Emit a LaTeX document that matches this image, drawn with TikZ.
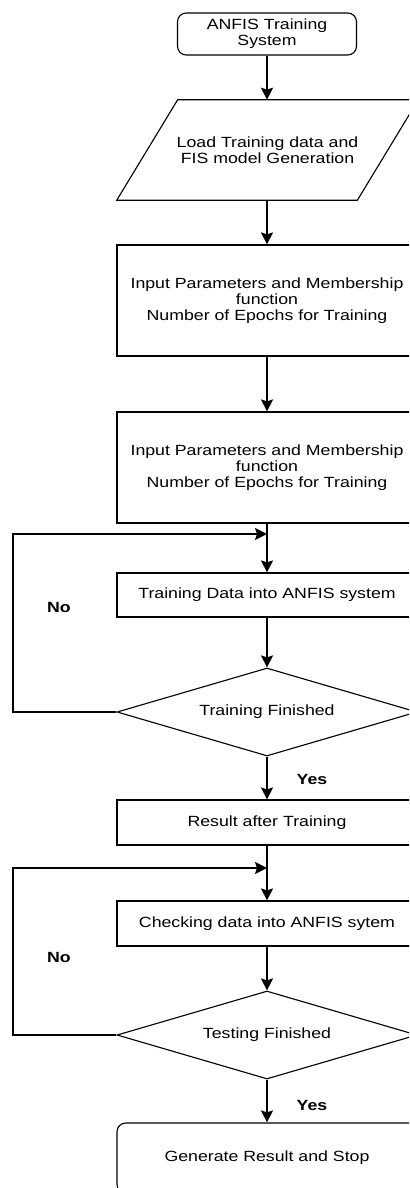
\documentclass[tikz,border=0pt]{standalone}
\usepackage{fontspec}
\setmainfont{Liberation Sans}[FakeStretch=1.2]
\usetikzlibrary{shapes.geometric,arrows.meta,calc}

\begin{document}
\begin{tikzpicture}[x=0.025cm, y=-0.025cm,
    font=\fontsize{10.5}{11.3}\selectfont,
    startstop/.style={draw, line width=0.8pt, rounded corners=0.22cm, align=center},
    io/.style={minimum width=6cm, minimum height=2.5cm, align=center},
    process/.style={draw, line width=0.8pt, minimum width=7.5cm, align=center},
    decision/.style={draw, line width=0.8pt, diamond, aspect=3.4, inner sep=0pt,
        minimum width=7.5cm, minimum height=2.2cm, align=center},
    arrow/.style={line width=1.2pt, -{Stealth[length=0.3cm, width=0.3cm, inset=0.05cm]}},
    answer/.style={font=\fontsize{10.5}{12}\selectfont\bfseries}]
    \clip (0,0) rectangle (409,1188);

    % main column
    \node[startstop, minimum width=4.475cm, minimum height=1.05cm] (start) at (267,34) {ANFIS Training\\System};
    \node[io] (load) at (267.5,150) {Load Training data and\\FIS model Generation};
    \draw[line width=0.8pt] ($(load.south west)+(-30.5,0)$) -- ($(load.north west)+(30.5,0)$)
        -- ($(load.north east)+(30.5,0)$) -- ($(load.south east)+(-30.5,0)$) -- cycle;
    \node[process, minimum height=2.775cm] (param1) at (267,300.5) {Input Parameters and Membership\\function\\Number of Epochs for Training};
    \node[process, minimum height=2.775cm] (param2) at (267,467.5) {Input Parameters and Membership\\function\\Number of Epochs for Training};
    \node[process, minimum height=1.1cm] (train) at (267,595) {Training Data into ANFIS system};
    \node[decision] (trainend) at (267,712) {Training Finished};
    \node[process, minimum height=1.125cm] (result) at (267,822.5) {Result after Training};
    \node[process, minimum height=1.125cm] (check) at (267,923.5) {Checking data into ANFIS sytem};
    \node[decision] (testend) at (267,1035) {Testing Finished};
    \node[startstop, minimum width=7.5cm, minimum height=1.75cm] (stop) at (267,1158) {Generate Result and Stop};

    % loop points
    \coordinate (join1) at (267,534);
    \coordinate (back1) at (13,534);
    \coordinate (join2) at (267,868);
    \coordinate (back2) at (13,868);

    \draw[arrow] (start) -- (start |- load.north);
    \draw[arrow] (start |- load.south) -- (param1);
    \draw[arrow] (param1) -- (param2);
    \draw[arrow] (param2) -- (train);
    \draw[arrow] (train) -- (trainend);
    \draw[arrow] (trainend) -- (result);
    \draw[arrow] (result) -- (check);
    \draw[arrow] (check) -- (testend);
    \draw[arrow] (testend) -- (stop);

    % No branches
    \draw[arrow] (trainend.west) -| (back1) -- (join1);
    \draw[arrow] (testend.west) -| (back2) -- (join2);

    \node[answer] (no1) at (59,607) {No};
    \node[answer] (yes1) at (312,779) {Yes};
    \node[answer] (no2) at (59,957) {No};
    \node[answer] (yes2) at (312,1105) {Yes};
\end{tikzpicture}
\end{document}
